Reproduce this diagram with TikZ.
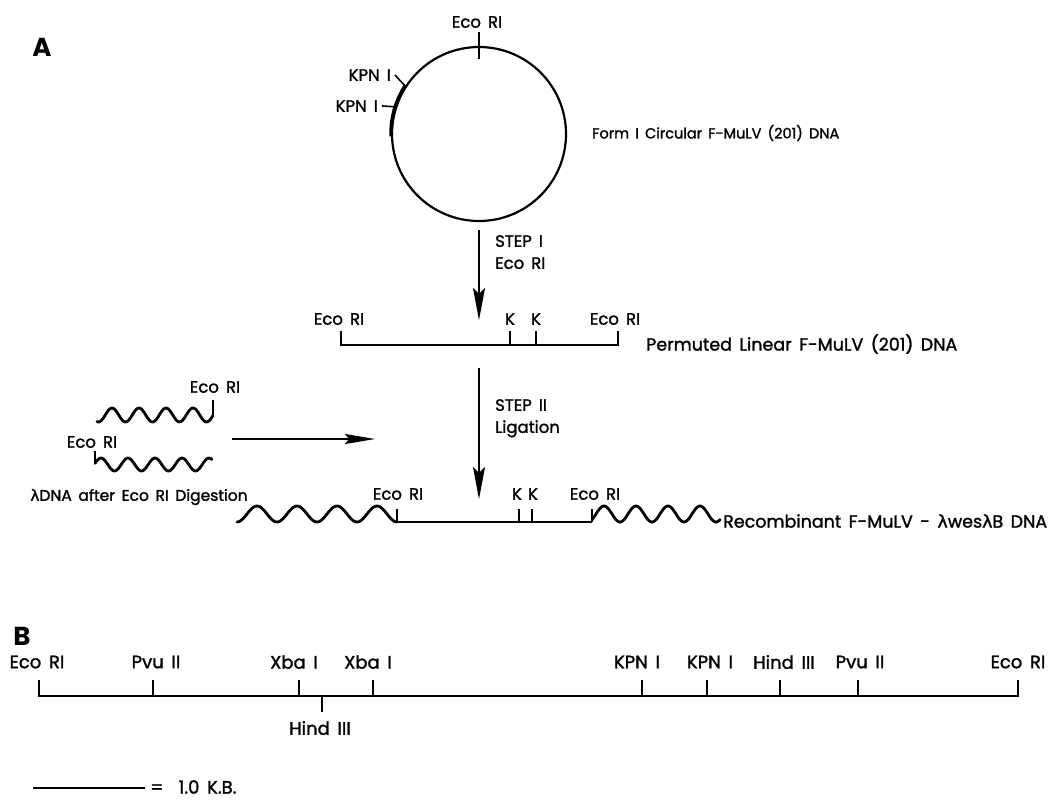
\documentclass[tikz,border=0pt]{standalone}
\usepackage{fontspec}
\setmainfont{Poppins}
\newfontfamily\lblfont{Poppins}[FakeBold=1.5, WordSpace=1.6]
\newfontfamily\greekfont{DejaVu Sans}[FakeBold=1.5]
\usetikzlibrary{arrows.meta,positioning}
\newcommand{\lam}{{\greekfont λ}}

\begin{document}
\begin{tikzpicture}[x=1pt, y=-1pt,
  lbl/.style={font=\lblfont\fontsize{16.5}{22}\selectfont, inner sep=0pt},
  big/.style={font=\lblfont\fontsize{17.5}{22}\selectfont, inner sep=0pt},
  maplbl/.style={font=\lblfont\fontsize{18}{22}\selectfont, inner sep=0pt},
  panel/.style={font=\fontsize{26}{28}\selectfont\bfseries, inner sep=0pt},
  dna/.style={line width=1.7pt},
  cut/.style={line width=1.6pt},
  wavy/.style={line width=2.8pt, line join=round, line cap=round},
  fwd/.style={-{Stealth[length=32pt, width=12pt, inset=6pt]}, line width=2.2pt},
  side/.style={-{Stealth[length=30pt, width=10pt, inset=4pt]}, line width=1.8pt}]
\useasboundingbox (0,0) rectangle (1064,801);

% Panel A -- circular genome
\node[panel] (pa) at (42,47) {A};
\node[circle, draw, line width=2.2pt, minimum size=174pt, inner sep=0pt]
  (form1) at (479,134) {};
\draw[line width=3.6pt] (form1.147) arc[start angle=147, end angle=182, radius=87pt];
\node[lbl] (ecotop) at (477,22) {Eco RI};
\node[lbl, anchor=east] (kpn1) at (391,75) {KPN I};
\node[lbl, anchor=east] (kpn2) at (378,106) {KPN I};
\draw[cut] ([yshift=14pt]form1.north) -- ([yshift=-13pt]form1.north);
\draw[cut] ([xshift=4pt]kpn1.east) -- (form1.147);
\draw[cut] ([xshift=4pt]kpn2.east) -- (form1.162);
\node[lbl, font=\lblfont\fontsize{14.5}{18}\selectfont, anchor=west] (form1lbl) at (592,133)
  {Form I Circular F-MuLV (201) DNA};

% Step I
\coordinate (s1top) at (479,230);
\coordinate (s1bot) at (479,320);
\draw[fwd] (s1top) -- (s1bot);
\node[lbl, anchor=north west, align=left] (s1lbl) at (495,235) {STEP I\\Eco RI};

% Permuted linear DNA
\coordinate (pL) at (341,345);
\coordinate (pR) at (618,345);
\coordinate (pK1) at (510,345);
\coordinate (pK2) at (536,345);
\draw[dna] ([yshift=14pt]pL) -- (pL) -- (pR) -- ([yshift=14pt]pR);
\draw[cut] (pK1) -- ++(0,-14);
\draw[cut] (pK2) -- ++(0,-14);
\node[lbl] (pEcoL) at (339,319) {Eco RI};
\node[lbl] (pKa) at (510,319) {K};
\node[lbl] (pKb) at (536,319) {K};
\node[lbl] (pEcoR) at (615,319) {Eco RI};
\node[big, anchor=west] (permlbl) at (646,344) {Permuted Linear F-MuLV (201) DNA};

% Step II
\coordinate (s2top) at (479,368);
\coordinate (s2bot) at (479,499);
\draw[fwd] (s2top) -- (s2bot);
\node[lbl, anchor=north west, align=left] (s2lbl) at (495,399) {STEP II\\Ligation};

% lambda arms
\draw[wavy] plot[domain=97:213, samples=80] (\x, {415-7*cos((\x-112)*13.33)});
\draw[cut] (213,416) -- (213,400);
\node[lbl] (lamEcoR) at (215,387) {Eco RI};
\draw[cut] (95,451) -- (95,463);
\draw[wavy] plot[domain=95:212, samples=80] (\x, {464.5-6.5*cos((\x-128)*13.33)});
\node[lbl] (lamEcoL) at (92,442) {Eco RI};
\node[lbl, font=\lblfont\fontsize{15.5}{18}\selectfont] (lamlbl) at (139,497)
  {\lam DNA after Eco RI Digestion};
\coordinate (hL) at (232,439);
\coordinate (hR) at (375,439);
\draw[side] (hL) -- (hR);

% Recombinant
\coordinate (rL) at (397,522);
\coordinate (rR) at (592,522);
\coordinate (rK1) at (519,522);
\coordinate (rK2) at (532,522);
\draw[wavy] plot[domain=237:397, samples=90] (\x, {514-8*cos((\x-257)*9)});
\draw[dna] (rL) -- (rR);
\draw[cut] (rL) -- ++(0,-13);
\draw[cut] (rK1) -- ++(0,-13);
\draw[cut] (rK2) -- ++(0,-13);
\draw[cut] (rR) -- ++(0,-13);
\draw[wavy] plot[domain=592:720, samples=90] (\x, {514-8*cos((\x-604)*11.25)});
\node[lbl] (rEcoL) at (398,494) {Eco RI};
\node[lbl] (rKa) at (517,494) {K};
\node[lbl] (rKb) at (533,494) {K};
\node[lbl] (rEcoR) at (595,494) {Eco RI};
\node[big, anchor=west] (reclbl) at (723,521) {Recombinant F-MuLV - \lam wes\lam B DNA};

% Panel B -- restriction map
\node[panel] (pb) at (22,636) {B};
\coordinate (bL) at (39,696);
\coordinate (bR) at (1018,696);
\draw[dna] ([yshift=16pt]bL) -- (bL) -- (bR) -- ([yshift=16pt]bR);
\draw[cut] (153,696) -- ++(0,-16);
\draw[cut] (299,696) -- ++(0,-16);
\draw[cut] (373,696) -- ++(0,-16);
\draw[cut] (642,696) -- ++(0,-16);
\draw[cut] (707,696) -- ++(0,-16);
\draw[cut] (780,696) -- ++(0,-16);
\draw[cut] (858,696) -- ++(0,-16);
\draw[cut] (322,696) -- ++(0,16);
\node[maplbl] (bEco1) at (37,662) {Eco RI};
\node[maplbl] (bPvu1) at (156,662) {Pvu II};
\node[maplbl] (bXba1) at (294,662) {Xba I};
\node[maplbl] (bXba2) at (368,662) {Xba I};
\node[maplbl] (bHind1) at (320,728) {Hind III};
\node[maplbl] (bKpn1) at (637,662) {KPN I};
\node[maplbl] (bKpn2) at (710,662) {KPN I};
\node[maplbl] (bHind2) at (784,662) {Hind III};
\node[maplbl] (bPvu2) at (860,662) {Pvu II};
\node[maplbl] (bEco2) at (1018,662) {Eco RI};

% scale bar
\coordinate (kbL) at (33,788);
\coordinate (kbR) at (145,788);
\draw[dna] (kbL) -- (kbR);
\node[maplbl, anchor=west] (kblbl) at (150,787) {= \ 1.0 K.B.};

\end{tikzpicture}
\end{document}
